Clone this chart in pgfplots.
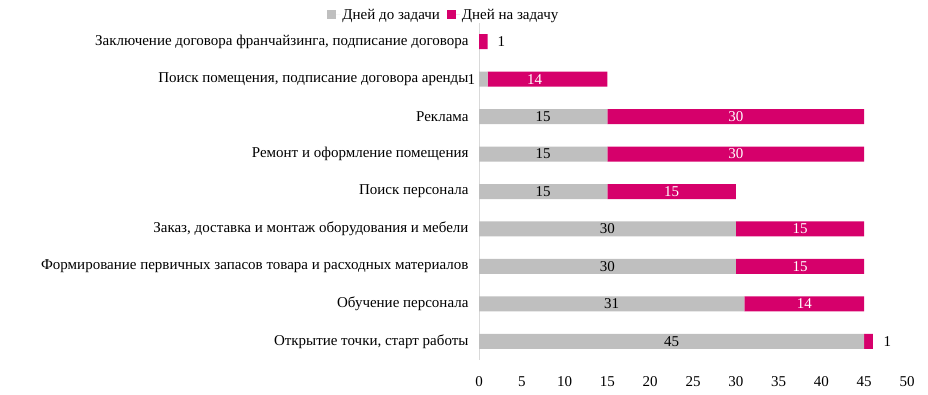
\documentclass[border=0pt]{standalone}
\usepackage{fontspec}
\setmainfont{Liberation Serif}
\usepackage{pgfplots}
\pgfplotsset{compat=1.18}
\definecolor{cgrey}{HTML}{BFBFBF}
\definecolor{cmag}{HTML}{D6006B}
\definecolor{caxis}{HTML}{D9D9D9}
\begin{document}
\begin{tikzpicture}[x=1pt,y=1pt]
\path[use as bounding box] (0,0) rectangle (928,394);
\begin{axis}[
  at={(479pt,34pt)}, anchor=south west,
  scale only axis, width=428pt, height=337pt,
  font=\fontsize{15}{17}\selectfont,
  xbar stacked, bar width=15pt,
  xmin=0, xmax=50, xtick={0,5,...,50},
  ymin=-0.5, ymax=8.5, y dir=reverse,
  ytick={0,...,8},
  yticklabels={Заключение договора франчайзинга{,} подписание договора,
    Поиск помещения{,} подписание договора аренды,
    Реклама,
    Ремонт и оформление помещения,
    Поиск персонала,
    Заказ{,} доставка и монтаж оборудования и мебели,
    Формирование первичных запасов товара и расходных материалов,
    Обучение персонала,
    Открытие точки{,} старт работы},
  axis y line*=left, axis x line*=bottom,
  x axis line style={draw=none},
  y axis line style={draw=caxis, line width=1pt},
  tick style={draw=none},
  xticklabel style={yshift=-13pt},
  yticklabel style={xshift=-7pt},
  /pgf/number format/assume math mode=true,
  legend columns=2,
  legend style={at={(-0.082,1.024)}, anchor=center, draw=none, fill=none,
    font=\fontsize{15}{17}\selectfont,
    /tikz/every even column/.append style={column sep=5pt}},
  legend image code/.code={\path (0pt,0pt) -- (13pt,0pt);\fill[#1] (0pt,-4.5pt) rectangle (9pt,4.5pt);},
  clip=false,
]
\addplot[fill=cgrey, draw=none] coordinates {(0,0) (1,1) (15,2) (15,3) (15,4) (30,5) (30,6) (31,7) (45,8)};
\addlegendentry{Дней до задачи}
\addplot[fill=cmag, draw=none] coordinates {(1,0) (14,1) (30,2) (30,3) (15,4) (15,5) (15,6) (14,7) (1,8)};
\addlegendentry{Дней на задачу}
\end{axis}
\begin{axis}[
  at={(479pt,34pt)}, anchor=south west,
  scale only axis, width=428pt, height=337pt,
  xmin=0, xmax=50, ymin=-0.5, ymax=8.5, y dir=reverse,
  hide axis, clip=false,
  font=\fontsize{15}{17}\selectfont,
]
\addplot[draw=none, mark=none, nodes near coords, point meta=explicit symbolic,
  every node near coord/.style={anchor=center, text=black, inner sep=0pt}]
  coordinates {(2.6,0) [1] (-0.9,1) [1] (7.5,2) [15] (7.5,3) [15] (7.5,4) [15]
   (15,5) [30] (15,6) [30] (15.5,7) [31] (22.5,8) [45] (47.7,8) [1]};
\addplot[draw=none, mark=none, nodes near coords, point meta=explicit symbolic,
  every node near coord/.style={anchor=center, text=white, inner sep=0pt}]
  coordinates {(6.5,1) [14] (30,2) [30] (30,3) [30] (22.5,4) [15]
   (37.5,5) [15] (37.5,6) [15] (38,7) [14]};
\end{axis}
\end{tikzpicture}
\end{document}
